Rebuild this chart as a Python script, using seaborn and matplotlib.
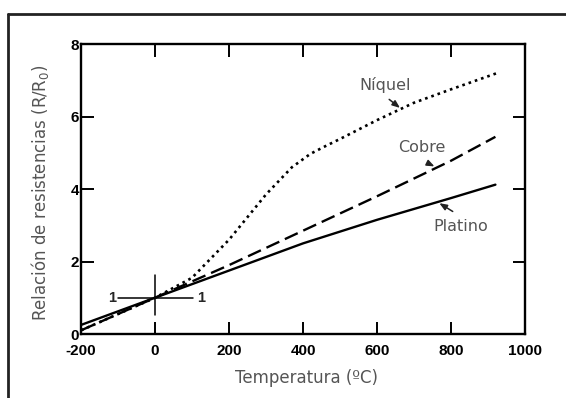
import numpy as np
import matplotlib
matplotlib.use("Agg")
import matplotlib.pyplot as plt
from matplotlib.lines import Line2D
import seaborn as sns

# values
temp_pt = [-200, 0, 200, 400, 600, 800, 920]
ratio_pt = [0.25, 1.0, 1.75, 2.5, 3.15, 3.75, 4.12]

temp_cu = [-200, 0, 200, 400, 600, 800, 920]
ratio_cu = [0.1, 1.0, 1.9, 2.85, 3.8, 4.78, 5.44]

temp_ni = [-200, -100, 0, 100, 200, 300, 370, 420, 460, 500, 600, 700, 800, 925]
ratio_ni = [0.1, 0.55, 1.0, 1.55, 2.6, 3.85, 4.6, 4.97, 5.18, 5.38, 5.9, 6.38, 6.75, 7.2]

x_ticks = [-200, 0, 200, 400, 600, 800, 1000]
y_ticks = [0, 2, 4, 6, 8]

# label text, position, arrow tail, arrow head
notes = [
    ("Níquel", (622, 6.88), (627, 6.52), (668, 6.19)),
    ("Cobre", (722, 5.14), (730, 4.75), (762, 4.59)),
    ("Platino", (827, 2.96), (811, 3.34), (762, 3.65)),
]

sns.set_style("ticks")
plt.rcParams['font.family'] = ['DejaVu Sans']
plt.rcParams['axes.unicode_minus'] = False

fig = plt.figure(figsize=(5.66, 3.98), dpi=100)
ax = fig.add_axes([0.1431, 0.1608, 0.7845, 0.7286])

sns.lineplot(x=temp_pt, y=ratio_pt, ax=ax, color="black", linewidth=1.7,
             linestyle="-", sort=False)
sns.lineplot(x=temp_cu, y=ratio_cu, ax=ax, color="black", linewidth=1.7,
             linestyle=(0, (6, 2.6)), sort=False)
sns.lineplot(x=temp_ni, y=ratio_ni, ax=ax, color="black", linewidth=1.9,
             linestyle=(0, (1, 1.5)), sort=False)

# reference cross at (0, 1)
ax.plot([0, 0], [0.52, 1.63], color="black", lw=1.1)
ax.plot([-100, 103], [1, 1], color="black", lw=1.1)
ax.text(-116, 1, "1", ha="center", va="center", fontsize=10.5,
        fontweight="bold", family="Liberation Sans")
ax.text(124, 1, "1", ha="center", va="center", fontsize=10.5,
        fontweight="bold", family="Liberation Sans")

for label, pos, tail, head in notes:
    ax.text(pos[0], pos[1], label, ha="center", va="center",
            fontsize=11.5, color="#555555")
    ax.annotate("", xy=head, xytext=tail,
                arrowprops=dict(arrowstyle="-|>,head_length=0.45,head_width=0.18",
                                color="#222222", lw=1.1))

ax.set_xlim(-200, 1000)
ax.set_ylim(0, 8)
ax.set_xticks(x_ticks)
ax.set_yticks(y_ticks)
for lab in ax.get_xticklabels() + ax.get_yticklabels():
    lab.set_fontweight("bold")
    lab.set_family("Liberation Sans")
    lab.set_fontsize(11)
ax.tick_params(axis="both", direction="in", length=9, width=1.4,
               top=True, right=True, colors="black")
ax.tick_params(axis="x", pad=7.5)
ax.tick_params(axis="y", pad=1.5)
for sp in ax.spines.values():
    sp.set_visible(True)
    sp.set_linewidth(1.7)
    sp.set_color("black")

ax.set_xlabel("Temperatura (ºC)", fontsize=12, color="#555555")
ax.set_ylabel("Relación de resistencias (R/R$_0$)", fontsize=12, color="#555555")
ax.xaxis.set_label_coords(0.507, -0.12)
ax.yaxis.set_label_coords(-0.068, 0.486)

# outer frame (top and left edges)
fig.add_artist(Line2D([8 / 566, 8 / 566], [0, 1 - 14 / 398],
                      transform=fig.transFigure, color="#222222", lw=2))
fig.add_artist(Line2D([8 / 566, 1], [1 - 14 / 398, 1 - 14 / 398],
                      transform=fig.transFigure, color="#222222", lw=2))

fig.savefig("out.png", dpi=100)
